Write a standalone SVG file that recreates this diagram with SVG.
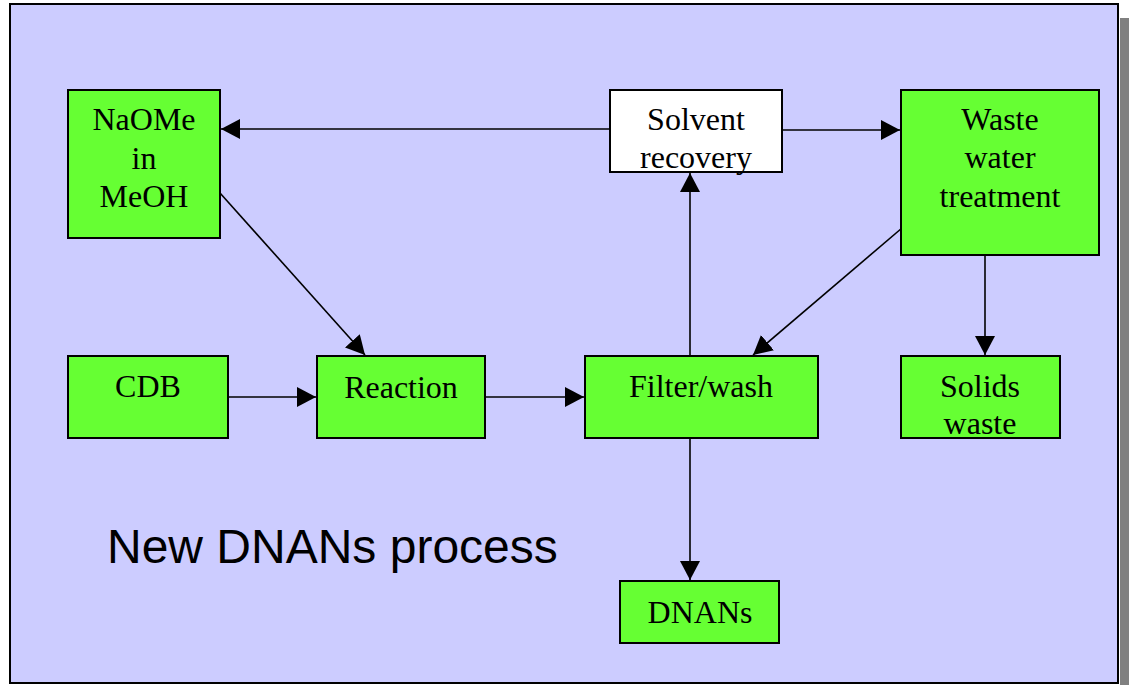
<svg xmlns="http://www.w3.org/2000/svg" width="1129" height="685" viewBox="0 0 1129 685">
<defs>
<style>
.box{fill:#66FF33;stroke:#000;stroke-width:2}
.wbox{fill:#FFFFFF;stroke:#000;stroke-width:2}
.t{font-family:"Liberation Serif","Times New Roman",serif;font-size:32px;fill:#000;text-anchor:middle}
.c{stroke:#000;stroke-width:1.6;fill:none;marker-end:url(#ah)}
</style>
<marker id="ah" markerUnits="userSpaceOnUse" markerWidth="20" markerHeight="20" viewBox="0 0 20 20" refX="19" refY="10" orient="auto">
<path d="M0,0 L19,10 L0,20 Z" fill="#000"/>
</marker>
</defs>
<rect x="1120" y="18" width="9" height="667" fill="#808080"/>
<rect x="10" y="4" width="1108" height="679" fill="#CCCCFF" stroke="#000" stroke-width="2"/>
<g id="connectors">
<line class="c" x1="610" y1="129" x2="221" y2="129"/>
<line class="c" x1="782" y1="130" x2="900" y2="130"/>
<line class="c" x1="220" y1="193" x2="365" y2="355"/>
<line class="c" x1="228" y1="397" x2="316" y2="397"/>
<line class="c" x1="485" y1="397" x2="584" y2="397"/>
<line class="c" x1="690" y1="356" x2="690" y2="173"/>
<line class="c" x1="902" y1="228" x2="753" y2="355"/>
<line class="c" x1="985" y1="255" x2="985" y2="355"/>
<line class="c" x1="690" y1="438" x2="690" y2="580"/>
</g>
<g id="naome"><rect class="box" x="68" y="90" width="152" height="148"/>
<text class="t" x="144" y="130">NaOMe</text><text class="t" x="144" y="169">in</text><text class="t" x="144" y="207">MeOH</text></g>
<g id="solvent"><rect class="wbox" x="610" y="90" width="172" height="82"/>
<text class="t" x="696" y="130">Solvent</text><text class="t" x="696" y="168">recovery</text></g>
<g id="waste"><rect class="box" x="901" y="90" width="198" height="165"/>
<text class="t" x="1000" y="130">Waste</text><text class="t" x="1000" y="168">water</text><text class="t" x="1000" y="207">treatment</text></g>
<g id="cdb"><rect class="box" x="68" y="356" width="160" height="82"/>
<text class="t" x="148" y="397">CDB</text></g>
<g id="reaction"><rect class="box" x="317" y="356" width="168" height="82"/>
<text class="t" x="401" y="398">Reaction</text></g>
<g id="filter"><rect class="box" x="585" y="356" width="233" height="82"/>
<text class="t" x="701" y="397">Filter/wash</text></g>
<g id="solids"><rect class="box" x="901" y="356" width="159" height="82"/>
<text class="t" x="980" y="397">Solids</text><text class="t" x="980" y="434">waste</text></g>
<g id="dnans"><rect class="box" x="620" y="581" width="159" height="62"/>
<text class="t" x="700" y="623">DNANs</text></g>
<text x="107" y="563" font-family="'Liberation Sans',Arial,sans-serif" font-size="48" fill="#000">New DNANs process</text>
</svg>
